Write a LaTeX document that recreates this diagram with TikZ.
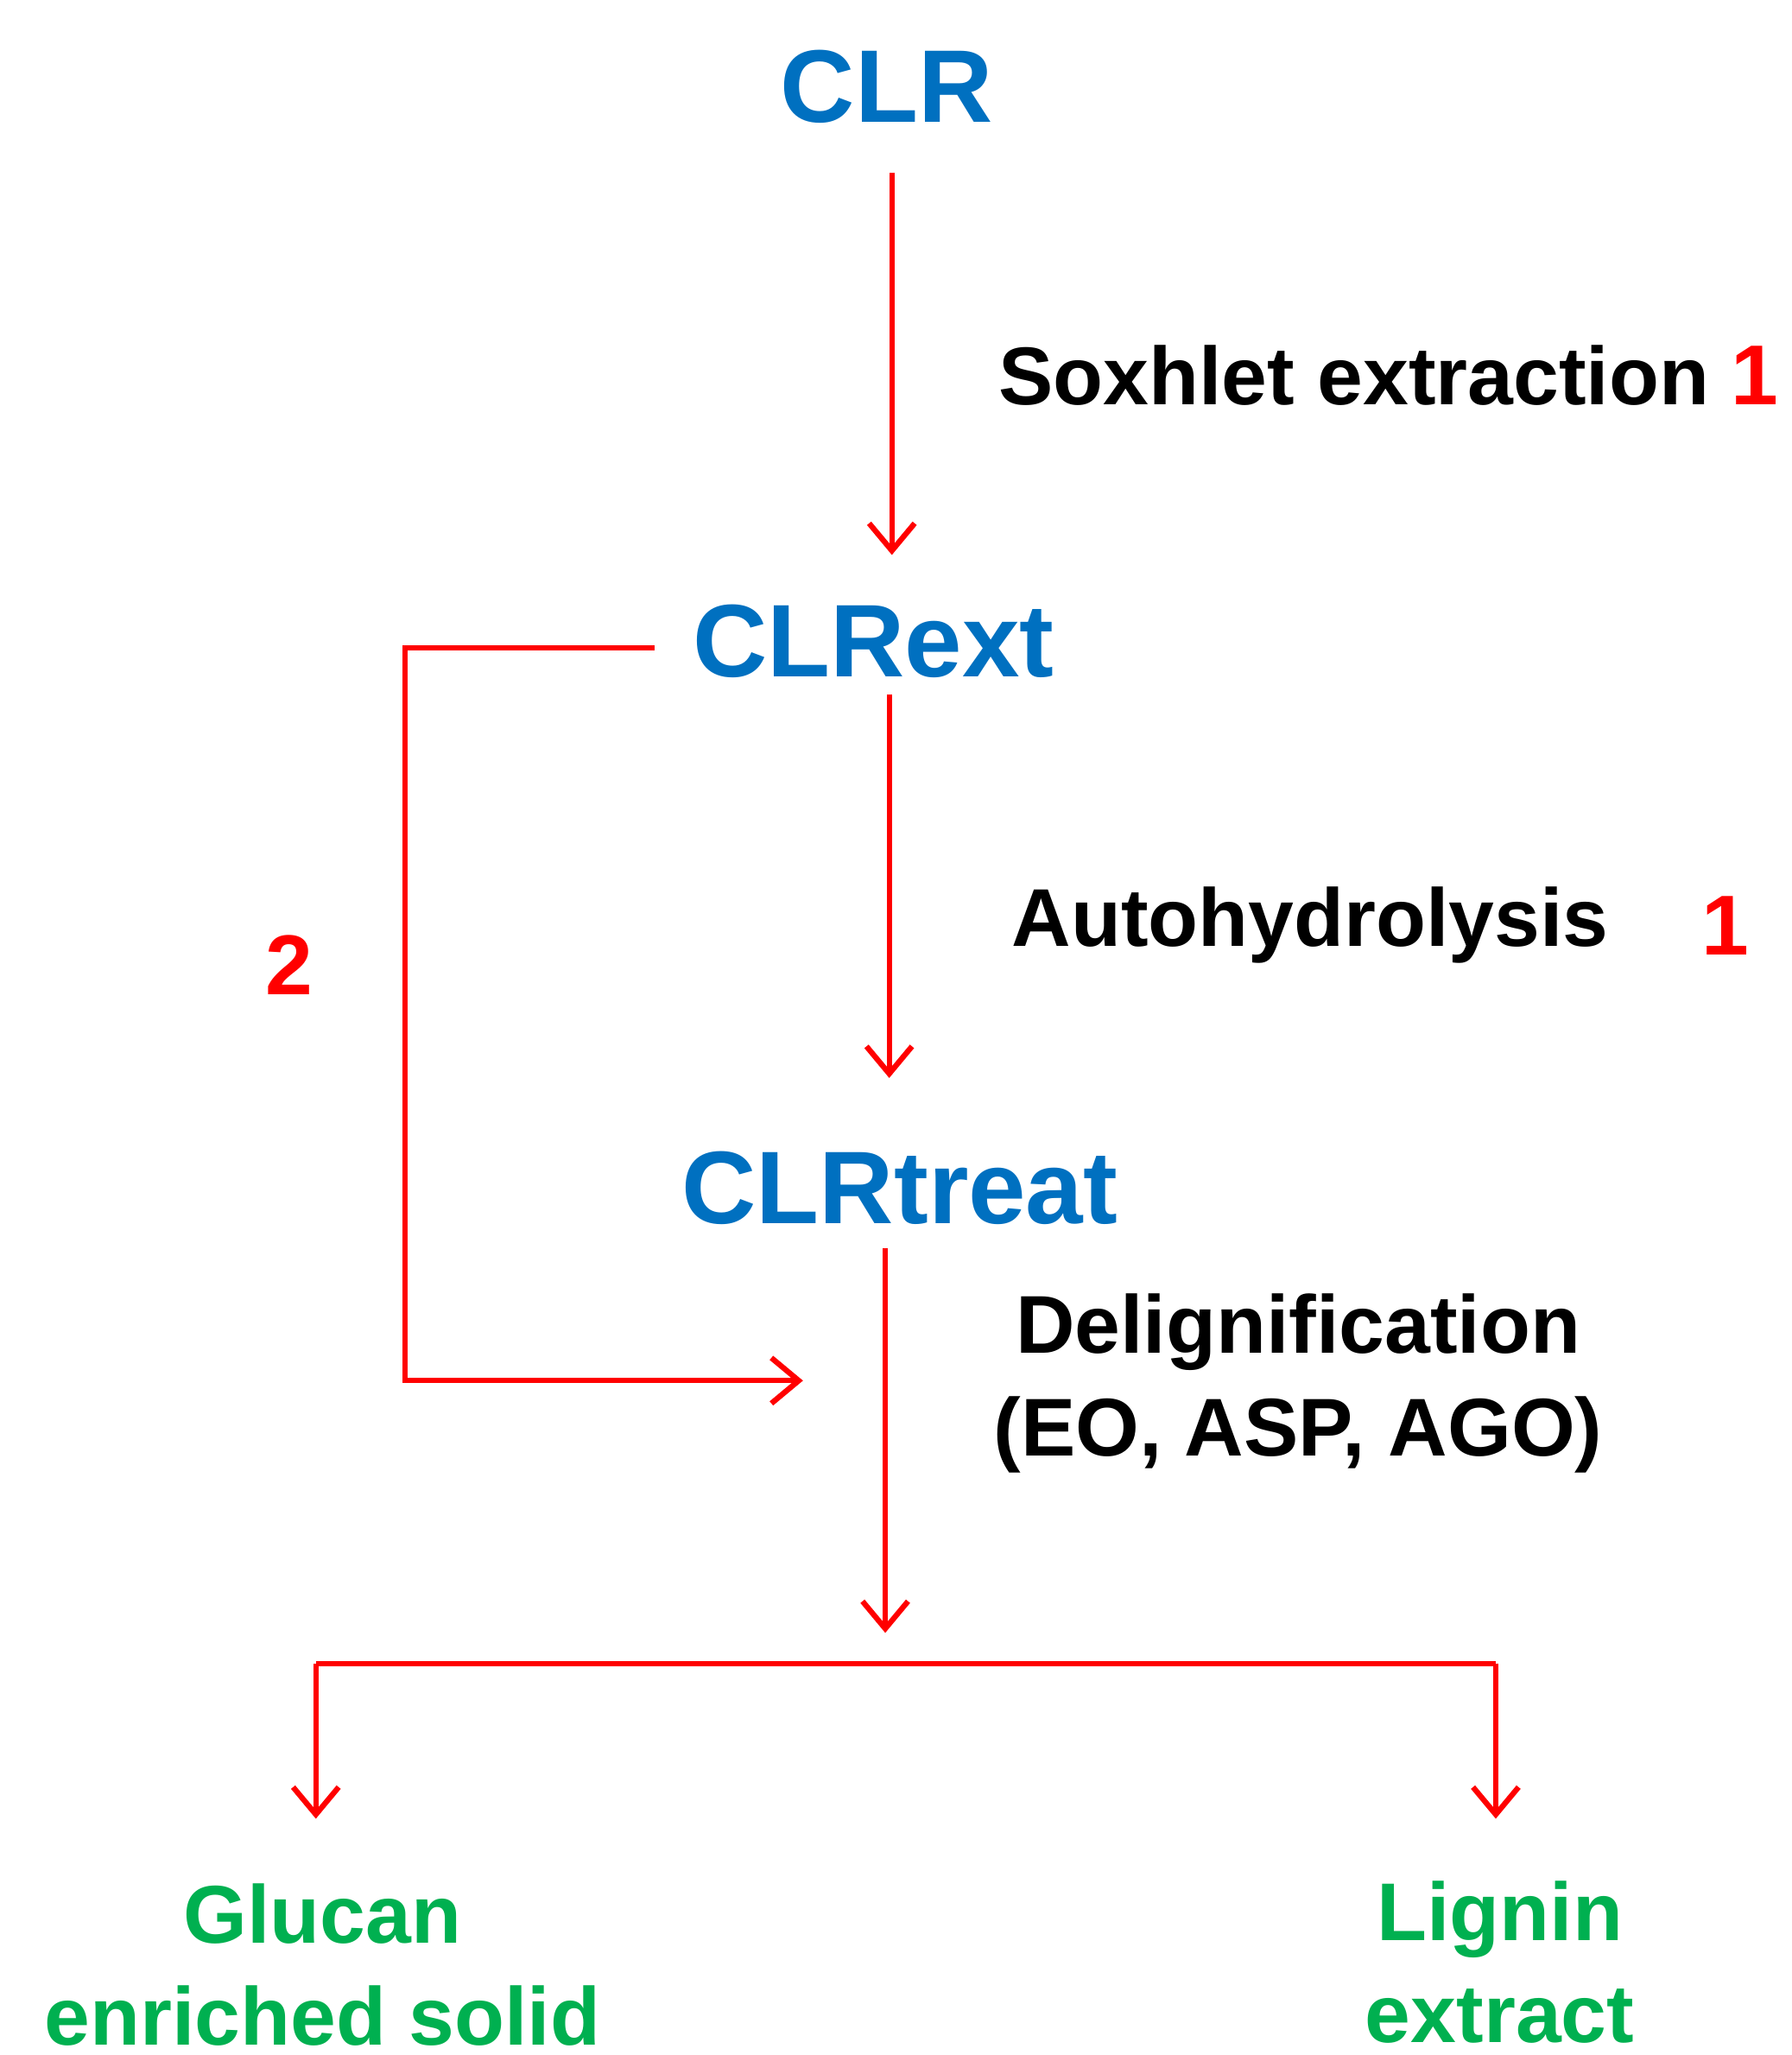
\documentclass[tikz,border=0pt]{standalone}
\usepackage{fontspec}
\setmainfont{Liberation Sans}
\usetikzlibrary{arrows.meta}
\definecolor{clrblue}{RGB}{0,112,192}
\definecolor{clrgreen}{RGB}{0,176,80}
\tikzset{
  stage/.style={text=clrblue, font=\fontsize{34}{38}\selectfont\bfseries},
  process/.style={text=black, font=\fontsize{27}{34}\selectfont\bfseries, align=center},
  num/.style={text=red, font=\fontsize{28}{34}\selectfont\bfseries},
  product/.style={text=clrgreen, font=\fontsize{27}{33.5}\selectfont\bfseries, align=center},
  flow/.style={draw=red, line width=1.8pt, -{Straight Barb[length=9pt,width=15pt,line width=1.8pt]}}
}
\begin{document}
\begin{tikzpicture}[x=0.01537cm, y=-0.01537cm]
  \useasboundingbox (0,0) rectangle (1350,1548);
  \node[stage] (clr) at (668,65) {CLR};
  \node[stage] (ext) at (658,483) {CLRext};
  \node[stage] (treat) at (678,895) {CLRtreat};
  \node[process, anchor=west, inner sep=0pt] (sox) at (752,283) {Soxhlet extraction};
  \node[num] (n1a) at (1322,283) {1};
  \node[process, anchor=west, inner sep=0pt] (auto) at (762,697) {Autohydrolysis};
  \node[num] (n1b) at (1300,697) {1};
  \node[num] (n2) at (218,727) {2};
  \node[process] (delig) at (978,1042) {Delignification\\(EO, ASP, AGO)};
  \node[product] (glucan) at (243,1480) {Glucan\\enriched solid};
  \node[product] (lignin) at (1130,1478) {Lignin\\extract};
  % connectors
  \coordinate (a1) at (672,130);
  \coordinate (a1e) at (672,418);
  \coordinate (a2) at (670,523);
  \coordinate (a2e) at (670,812);
  \coordinate (a3) at (667,940);
  \coordinate (a3e) at (667,1230);
  \coordinate (loop) at (493,488);
  \coordinate (loope) at (605,1040);
  \coordinate (barl) at (238,1253);
  \coordinate (barr) at (1127,1253);
  \draw[flow] (a1) -- (a1e);
  \draw[flow] (a2) -- (a2e);
  \draw[flow] (a3) -- (a3e);
  \draw[flow] (loop) -- (305,488) -- (305,1040) -- (loope);
  \draw[draw=red, line width=1.8pt] (barl) -- (barr);
  \draw[flow] (barl) -- (238,1370);
  \draw[flow] (barr) -- (1127,1370);
\end{tikzpicture}
\end{document}
